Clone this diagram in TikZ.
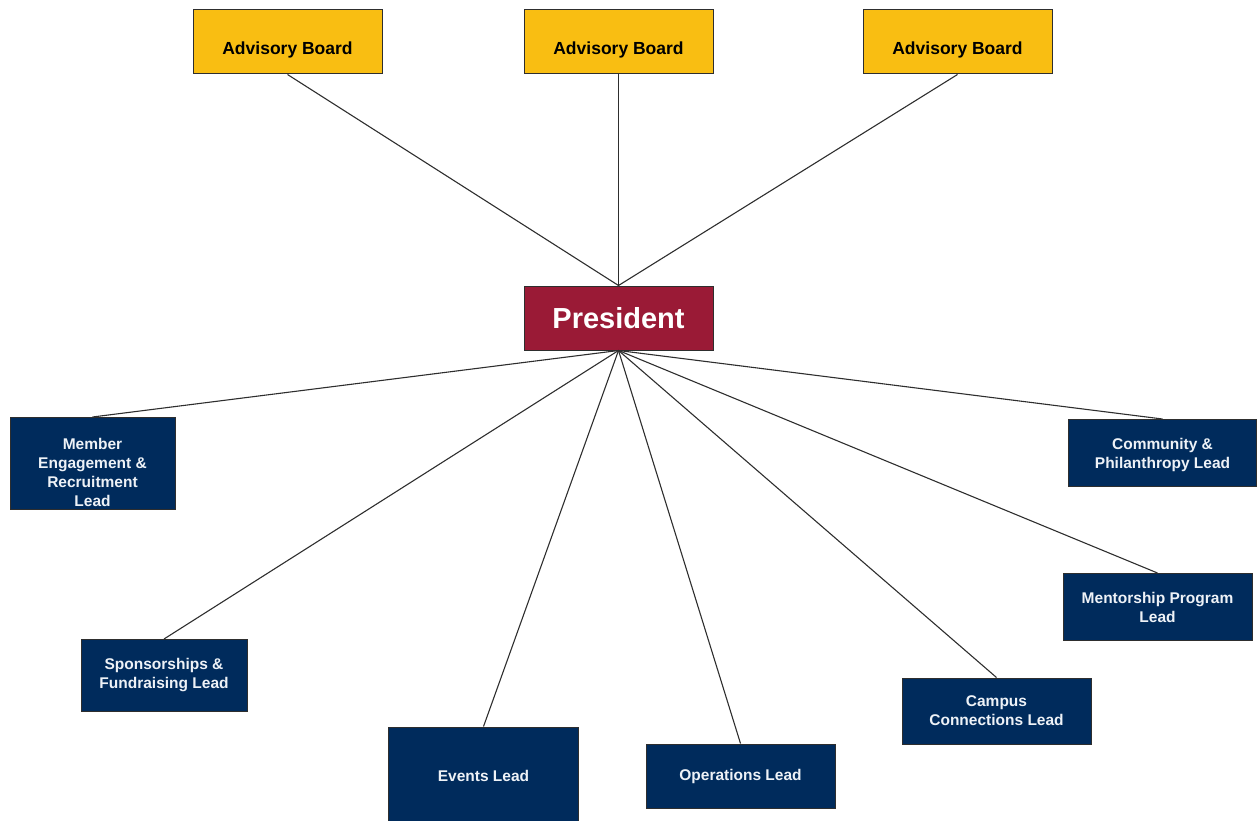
\documentclass[tikz,border=0pt]{standalone}
\usepackage{fontspec}
\setmainfont{Liberation Sans}
\definecolor{gold}{HTML}{F9BE12}
\definecolor{maroon}{HTML}{9A1A36}
\definecolor{navy}{HTML}{002B5C}
\definecolor{edge}{HTML}{2E2E2E}
\definecolor{paletext}{HTML}{EEF2F7}
\begin{document}
\begin{tikzpicture}[x=1pt,y=-1pt,
  box/.style={draw=edge, line width=1pt, inner sep=0pt, align=center, font=\bfseries},
  board/.style={box, fill=gold, text=black, minimum width=189pt, minimum height=64pt,
    text height=24.6pt, text depth=0pt,
    font=\bfseries\fontsize{17.5}{21}\selectfont},
  chief/.style={box, fill=maroon, text=white, minimum width=189pt, minimum height=64pt,
    font=\bfseries\fontsize{29}{34}\selectfont},
  lead/.style={box, fill=navy, text=paletext, font=\bfseries\fontsize{15.5}{19}\selectfont},
  leadtext/.style={inner sep=0pt, align=center, text=paletext, font=\bfseries\fontsize{15.5}{19}\selectfont},
  link/.style={draw=edge, line width=1.1pt}]
\useasboundingbox (0,0) rectangle (1257,821);
\clip (0,0) rectangle (1257,821);

% advisory boards
\node[board] (ab1) at (287.5,42) {Advisory Board};
\node[board] (ab2) at (618.5,42) {Advisory Board};
\node[board] (ab3) at (957.5,42) {Advisory Board};

% president
\node[chief] (pres) at (618.5,318) {President};

% leads
\node[lead, minimum width=165pt, minimum height=92pt] (mem) at (92.5,463.5) {};
\node[leadtext] (memt) at (92.5,472) {Member\\Engagement \&\\Recruitment\\Lead};
\node[lead, minimum width=188pt, minimum height=67pt] (com) at (1162.5,453) {};
\node[leadtext] (comt) at (1162.5,455) {Community \&\\Philanthropy Lead};
\node[lead, minimum width=166pt, minimum height=72pt] (spo) at (164,675.5) {Sponsorships \&\\Fundraising Lead};
\node[lead, minimum width=190pt, minimum height=110pt] (evt) at (483.5,782) {};
\node[leadtext] (evtt) at (483.5,776) {Events Lead};
\node[lead, minimum width=189pt, minimum height=64pt] (ops) at (740.5,776) {Operations Lead};
\node[lead, minimum width=189pt, minimum height=66pt] (cam) at (996.5,711) {Campus\\Connections Lead};
\node[lead, minimum width=189pt, minimum height=67pt] (men) at (1157.5,607) {Mentorship Program\\Lead};

% connectors
\foreach \b in {ab1,ab2,ab3}
  \draw[link] (\b.south) -- (pres.north);
\foreach \l in {mem,com,spo,evt,ops,cam,men}
  \draw[link] (pres.south) -- (\l.north);
\end{tikzpicture}
\end{document}
